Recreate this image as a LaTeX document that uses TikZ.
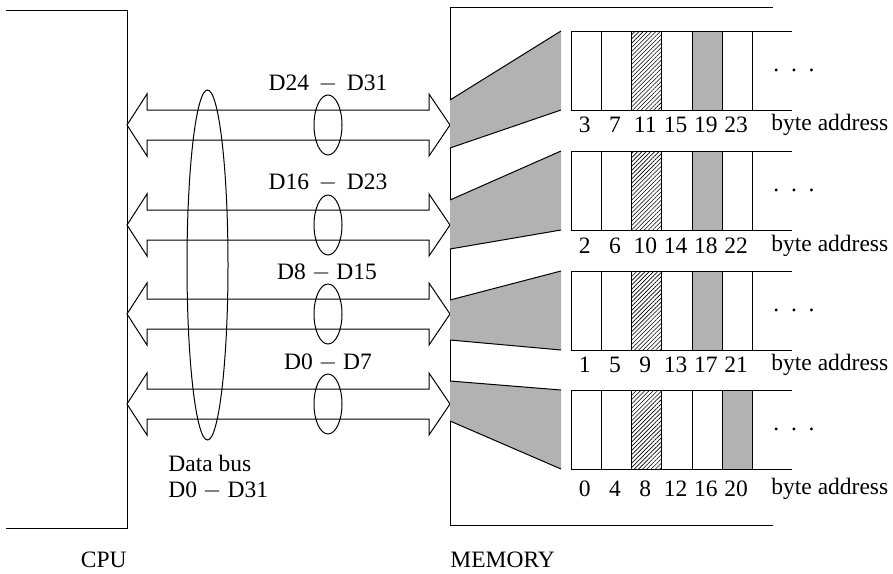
\documentclass[tikz,border=0pt]{standalone}
\usepackage{fontspec}
\setmainfont{Liberation Serif}
\usetikzlibrary{patterns.meta,shapes.geometric}

\begin{document}
\begin{tikzpicture}[x=0.5pt,y=-0.5pt]
    \def\cw{30.3}
    \def\rh{79}

    \tikzstyle{txt}=[inner sep=0pt,font=\fontsize{11.75}{13}\selectfont]
    \tikzstyle{bus}=[draw=black,line width=0.5pt,fill=white]
    \tikzstyle{ring}=[draw=black,line width=0.5pt,ellipse,inner sep=0pt,minimum width=14pt,minimum height=30pt]
    \tikzstyle{bigring}=[ring,minimum width=20.5pt,minimum height=175pt]
    \tikzstyle{fan}=[fill=gray!60]
    \tikzstyle{hatch}=[pattern={Lines[angle=45,distance=1.5pt,line width=0.3pt]}]

    \useasboundingbox (0,0) rectangle (893,573);

    % boxes
    \draw[line width=0.5pt] (6,10) -- (127,10) -- (127,528) -- (6,528);
    \draw[line width=0.5pt] (773,7) -- (450,7) -- (450,525) -- (773,525);

    % bus arrows
    \foreach \i/\yc in {1/125,2/225,3/314,4/404}{
        \draw[bus] (127,\yc) -- (147,\yc-31) -- (147,\yc-15) -- (429,\yc-15) -- (429,\yc-31)
            -- (450,\yc) -- (429,\yc+31) -- (429,\yc+15) -- (147,\yc+15) -- (147,\yc+31) -- cycle;
        \node[ring] (ring\i) at (328,\yc) {};
    }
    \node[bigring] (allbus) at (207.5,265) {};

    \node[txt] (grp1) at (328,84) {D24\hspace{0.41em}$-$\hspace{0.41em}D31};
    \node[txt] (grp2) at (328,183) {D16\hspace{0.41em}$-$\hspace{0.41em}D23};
    \node[txt] (grp3) at (327,273) {D8 $-$ D15};
    \node[txt] (grp4) at (328,363) {D0 $-$ D7};
    \node[txt,anchor=west,align=left] (busname) at (168,477) {Data bus\\D0 $-$ D31};

    % fans into memory rows
    \foreach \i/\la/\lb/\ra/\rb in {1/100/148/31/110,2/200/249/151/230,3/300/340/271/350,4/381/421/390/469}{
        \fill[fan] (450,\la) -- (561,\ra) -- (561,\rb) -- (450,\lb) -- cycle;
        \draw[line width=0.5pt] (450,\la) -- (561,\ra) (450,\lb) -- (561,\rb);
    }

    % memory rows
    \foreach \b/\t/\ly/\gc in {3/31/125/4,2/151/246/4,1/271/365/4,0/390/489/5}{
        \fill[fan] (571+\gc*\cw,\t) rectangle ++(\cw,\rh);
        \fill[hatch] (571+2*\cw,\t) rectangle ++(\cw,\rh);
        \draw[line width=0.5pt] (792,\t) -- (571,\t) -- (571,\t+\rh) -- (792,\t+\rh);
        \foreach \k in {1,...,6}
            \draw[line width=0.5pt] (571+\k*\cw,\t) -- ++(0,\rh);
        \foreach \k in {0,...,5}{
            \pgfmathtruncatemacro\n{\b+4*\k}
            \node[txt] (byte\b-\k) at (571+\k*\cw+\cw/2-1.5,\ly) {\n};
        }
        \node[txt,anchor=base] (more\b) at (794,\t+40) {.\hspace{0.5em}.\hspace{0.5em}.};
        \node[txt,anchor=west] (addr\b) at (771,\ly) {byte address};
    }

    \node[txt,anchor=east] (cpu) at (127,560) {CPU};
    \node[txt,anchor=west] (mem) at (450,560) {MEMORY};
\end{tikzpicture}
\end{document}
